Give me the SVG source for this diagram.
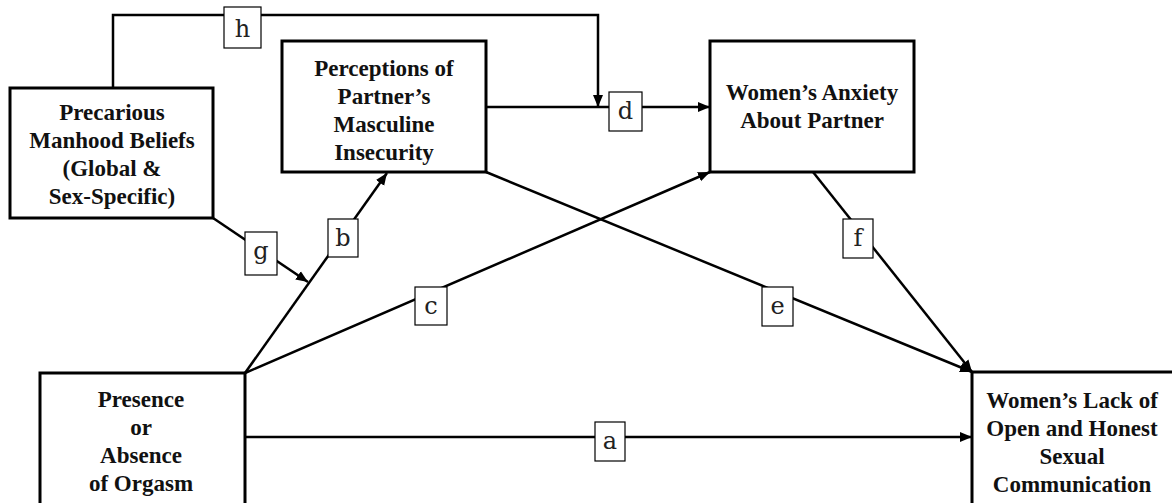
<svg xmlns="http://www.w3.org/2000/svg" width="1172" height="503" viewBox="0 0 1172 503">
<defs>
<marker id="arr" markerUnits="userSpaceOnUse" markerWidth="14" markerHeight="12" refX="12" refY="6" orient="auto">
<path d="M0,1 L12,6 L0,11 Z" fill="#000"/>
</marker>
<style>
.node{fill:#fff;stroke:#000;stroke-width:3}
.nt{font-family:"Liberation Serif","Times New Roman",serif;font-weight:bold;font-size:23px;fill:#111;text-anchor:middle}
.conn{fill:none;stroke:#000;stroke-width:2.5;marker-end:url(#arr)}
.lb{fill:#fff;stroke:#000;stroke-width:1.2}
.lt{font-family:"DejaVu Serif","Liberation Serif",serif;font-size:24px;fill:#222;text-anchor:middle}
</style>
</defs>
<rect width="1172" height="503" fill="#fff"/>
<g id="connectors">
<path class="conn" d="M113,88 V15 H598 V107"/>
<path class="conn" d="M486,107 H710"/>
<path class="conn" d="M245,437 H972"/>
<path class="conn" d="M245,373 L387,173"/>
<path class="conn" d="M213,218 L308,282"/>
<path class="conn" d="M245,373 L710,172"/>
<path class="conn" d="M486,172 L972,372"/>
<path class="conn" d="M813,172 L972,372"/>
</g>
<g id="labels">
<g id="lab-h"><rect class="lb" x="224" y="7" width="37" height="41"/><text class="lt" x="242.5" y="37">h</text></g>
<g id="lab-d"><rect class="lb" x="609" y="92" width="33" height="39"/><text class="lt" x="625.5" y="119">d</text></g>
<g id="lab-b"><rect class="lb" x="328" y="219" width="30" height="38"/><text class="lt" x="343" y="246">b</text></g>
<g id="lab-g"><rect class="lb" x="245" y="232" width="32" height="43"/><text class="lt" x="261" y="259">g</text></g>
<g id="lab-c"><rect class="lb" x="415" y="287" width="32" height="38"/><text class="lt" x="431" y="314">c</text></g>
<g id="lab-e"><rect class="lb" x="762" y="287" width="31" height="39"/><text class="lt" x="777.5" y="314">e</text></g>
<g id="lab-f"><rect class="lb" x="843" y="219" width="30" height="39"/><text class="lt" x="858" y="246">f</text></g>
<g id="lab-a"><rect class="lb" x="595" y="422" width="30" height="39"/><text class="lt" x="610" y="449">a</text></g>
</g>
<g id="node-precarious">
<rect class="node" x="10" y="88" width="203" height="130"/>
<text class="nt" x="112" y="120">Precarious</text>
<text class="nt" x="112" y="148">Manhood Beliefs</text>
<text class="nt" x="112" y="176">(Global &amp;</text>
<text class="nt" x="112" y="204">Sex-Specific)</text>
</g>
<g id="node-perceptions">
<rect class="node" x="282" y="41" width="204" height="131"/>
<text class="nt" x="384" y="76">Perceptions of</text>
<text class="nt" x="384" y="104">Partner’s</text>
<text class="nt" x="384" y="132">Masculine</text>
<text class="nt" x="384" y="160">Insecurity</text>
</g>
<g id="node-anxiety">
<rect class="node" x="710" y="41" width="204" height="131"/>
<text class="nt" x="812" y="100">Women’s Anxiety</text>
<text class="nt" x="812" y="128">About Partner</text>
</g>
<g id="node-orgasm">
<rect class="node" x="40" y="373" width="205" height="140"/>
<text class="nt" x="141" y="407">Presence</text>
<text class="nt" x="141" y="435">or</text>
<text class="nt" x="141" y="463">Absence</text>
<text class="nt" x="141" y="491">of Orgasm</text>
</g>
<g id="node-communication">
<rect class="node" x="972" y="372" width="204" height="140"/>
<text class="nt" x="1072" y="408">Women’s Lack of</text>
<text class="nt" x="1072" y="436">Open and Honest</text>
<text class="nt" x="1072" y="464">Sexual</text>
<text class="nt" x="1072" y="492">Communication</text>
</g>
</svg>
